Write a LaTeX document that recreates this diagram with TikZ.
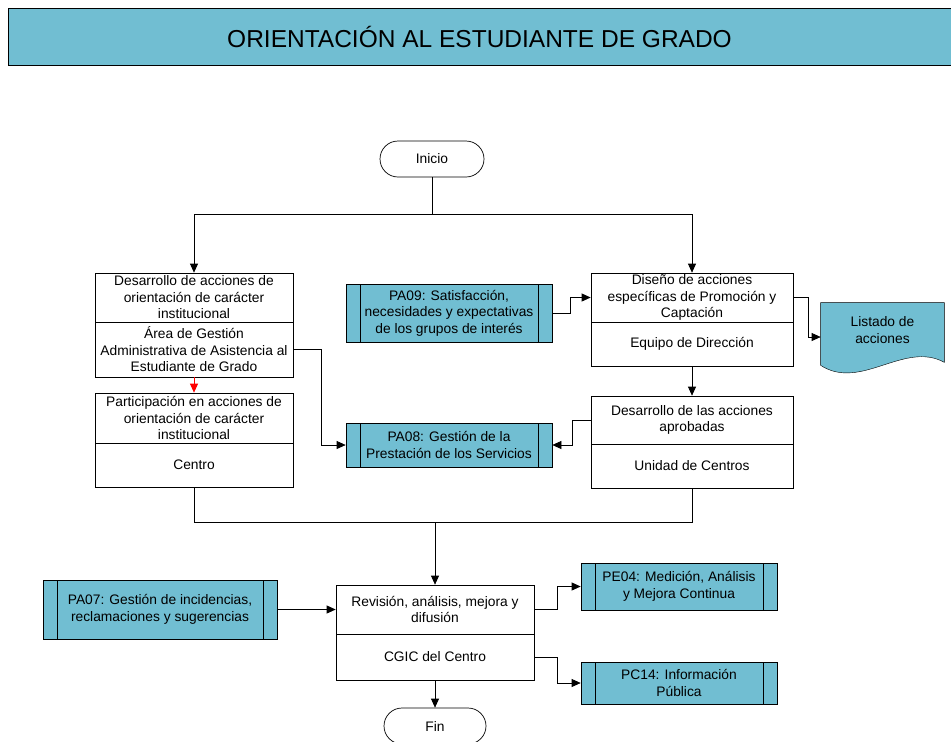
\documentclass[tikz,border=0pt]{standalone}
\usepackage{fontspec}
\setmainfont{Liberation Sans}
\usetikzlibrary{positioning,arrows.meta,backgrounds}
\definecolor{celeste}{RGB}{113,190,210}

\begin{document}
\begin{tikzpicture}[x=1pt,y=-1pt,on grid,line width=0.7pt,
  >={Triangle[length=9pt,width=8pt]},
  every node/.style={font=\fontsize{13.8}{16.5}\selectfont,align=center,inner sep=0.5pt},
  term/.style={draw,rounded corners=18pt,minimum width=104pt,minimum height=36pt},
  act/.style={draw,minimum width=198pt,minimum height=49pt},
  resp/.style={draw,minimum width=198pt,minimum height=44pt},
  ext/.style={draw,fill=celeste,minimum width=206pt,minimum height=44pt,
    path picture={\draw
      ([xshift=14pt]path picture bounding box.north west) -- ([xshift=14pt]path picture bounding box.south west)
      ([xshift=-14pt]path picture bounding box.north east) -- ([xshift=-14pt]path picture bounding box.south east);}}]
  \useasboundingbox (0,0) rectangle (951,742);

  \node[draw,fill=celeste,minimum width=943pt,minimum height=57pt,font=\fontsize{24.5}{28}\selectfont]
    (title) at (479.5,36.5) {ORIENTACIÓN AL ESTUDIANTE DE GRADO};

  \node[term] (ini) at (432,159) {Inicio};

  \node[act] (d1) at (194,297.5) {Desarrollo de acciones de\\orientación de carácter\\institucional};
  \node[resp,minimum height=55pt] (d1r) [below=52pt of d1] {Área de Gestión\\Administrativa de Asistencia al\\Estudiante de Grado};
  \node[act,minimum height=50pt] (p1) [below=68.5pt of d1r] {Participación en acciones de\\orientación de carácter\\institucional};
  \node[resp] (p1r) [below=47pt of p1] {Centro};

  \node[act,minimum width=202pt] (dis) at (692,297.5) {Diseño de acciones\\específicas de Promoción y\\Captación};
  \node[resp,minimum width=202pt] (disr) [below=46.5pt of dis] {Equipo de Dirección};
  \node[act,minimum width=202pt,minimum height=48pt] (apr) [below=76pt of disr] {Desarrollo de las acciones\\aprobadas};
  \node[resp,minimum width=202pt] (aprr) [below=46pt of apr] {Unidad de Centros};

  \node[ext,minimum height=58pt] (pa09) at (449,313) {PA09: Satisfacción,\\necesidades y expectativas\\de los grupos de interés};
  \node[ext] (pa08) at (449,445) {PA08: Gestión de la\\Prestación de los Servicios};

  \node[minimum width=123pt,minimum height=54pt] (lis) at (882.5,330) {Listado de\\acciones};

  \node[act] (rev) at (435,609.5) {Revisión, análisis, mejora y\\difusión};
  \node[resp,minimum height=46pt] (revr) [below=47.5pt of rev] {CGIC del Centro};

  \node[ext,minimum width=234pt,minimum height=59pt] (pa07) at (160,609.5) {PA07: Gestión de incidencias,\\reclamaciones y sugerencias};
  \node[ext,minimum width=196pt,minimum height=47pt] (pe04) at (679,586.5) {PE04: Medición, Análisis\\y Mejora Continua};
  \node[ext,minimum width=196pt,minimum height=42pt] (pc14) at (679,683) {PC14: Información\\Pública};

  \node[term,minimum width=102pt] (fin) at (435,726) {Fin};

  % documento
  \begin{scope}[on background layer]
    \draw[fill=celeste] (lis.north west) -- (lis.north east) -- ([yshift=-5pt]lis.south east)
      .. controls +(-40,-22) and +(40,26) .. ([yshift=-8pt]lis.south west) -- cycle;
  \end{scope}

  \coordinate (s1) at (432,214);
  \coordinate (m1) at (435,522);

  \draw (ini) -- (s1);
  \draw[->] (s1) -| (d1);
  \draw[->] (s1) -| (dis);
  \draw[->,red] (d1r) -- (p1);
  \draw[->] (d1r.east) -- ++(28,0) |- (pa08.west);
  \draw[->] (apr.west) -- ++(-18,0) |- (pa08.east);
  \draw[->] (pa09.east) -- ++(18,0) |- (dis.west);
  \draw[->] (dis.east) -- ++(15,0) |- ([yshift=-7pt]lis.west);
  \draw[->] (disr) -- (apr);
  \draw (p1r.south) -- ++(0,35) -| (aprr.south);
  \draw[->] (m1) -- (rev);
  \draw[->] (pa07) -- (rev);
  \draw[->] (rev.east) -- ++(23,0) |- (pe04.west);
  \draw[->] (revr.east) -- ++(23,0) |- (pc14.west);
  \draw[->] (revr) -- (fin);
\end{tikzpicture}
\end{document}
